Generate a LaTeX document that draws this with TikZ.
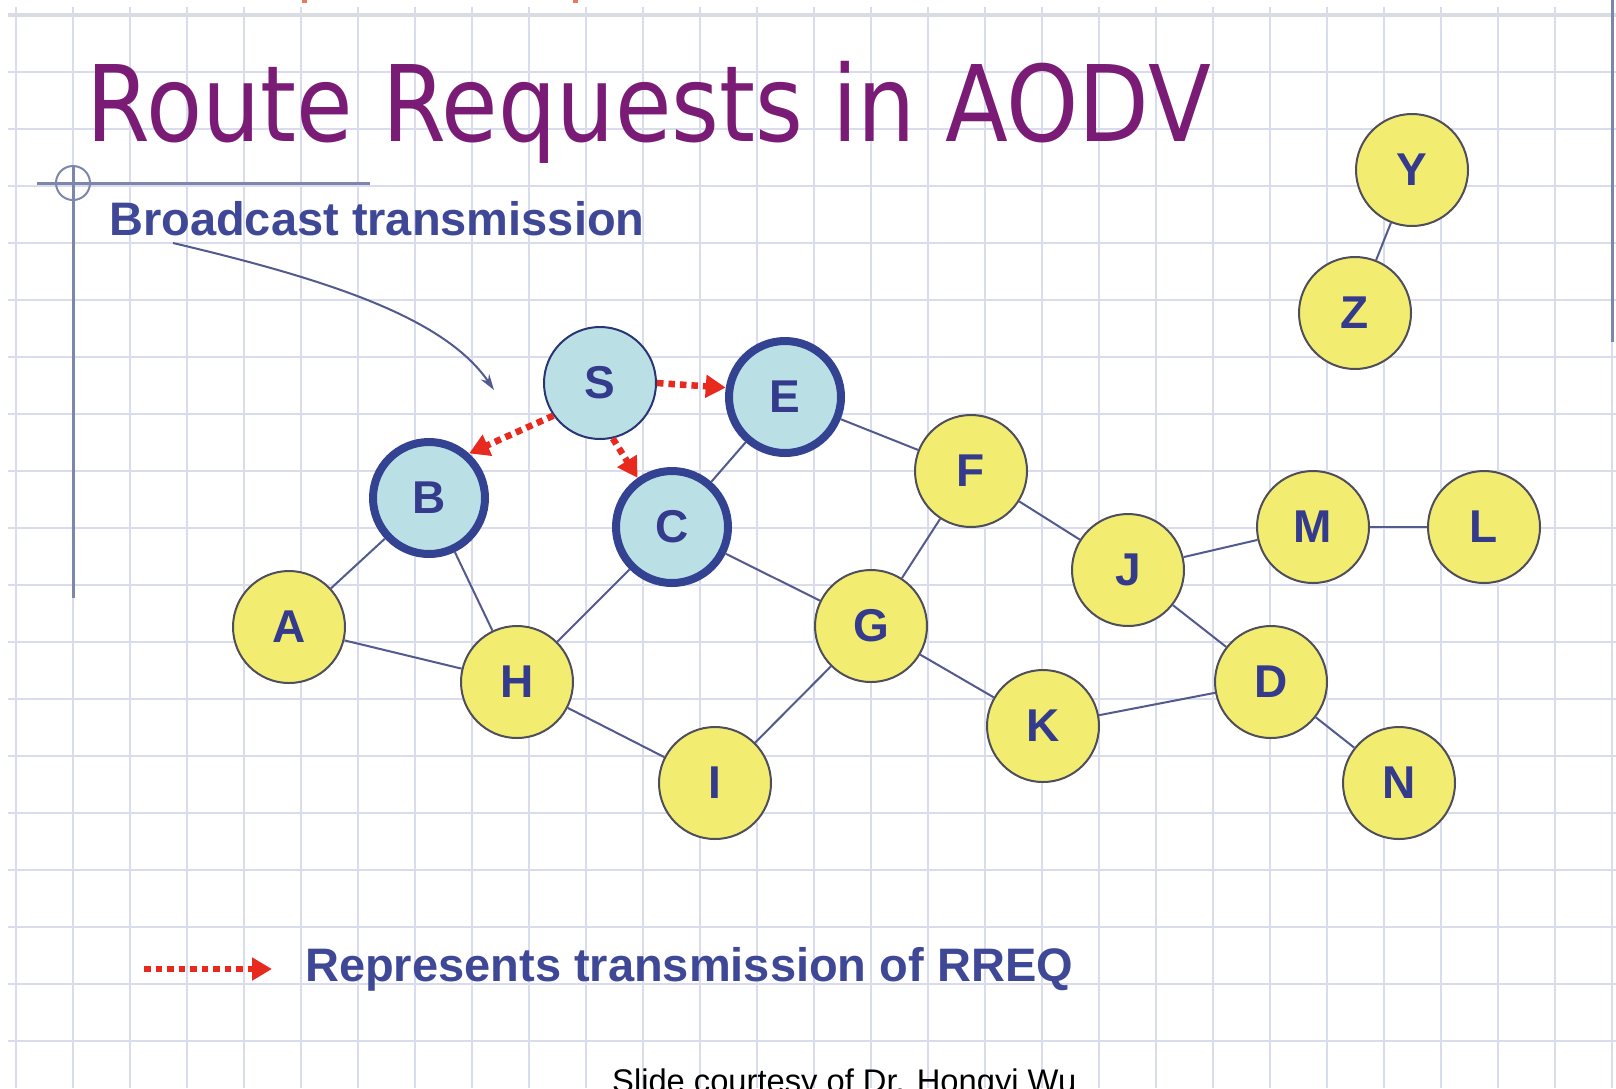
\documentclass[tikz,border=0pt]{standalone}
\usepackage{fontspec}
\setmainfont{Liberation Sans}
\newfontfamily\titlefont[FakeStretch=0.87]{DejaVu Sans}
\usetikzlibrary{arrows.meta}
\definecolor{gridc}{RGB}{216,220,236}
\definecolor{gridtop}{RGB}{218,220,228}
\definecolor{titlec}{RGB}{122,28,118}
\definecolor{txtc}{RGB}{62,72,150}
\definecolor{lblc}{RGB}{52,58,140}
\definecolor{yel}{RGB}{242,236,112}
\definecolor{cyanf}{RGB}{186,224,230}
\definecolor{bord}{RGB}{78,78,92}
\definecolor{bluebord}{RGB}{52,66,146}
\definecolor{edgec}{RGB}{82,90,142}
\definecolor{rreq}{RGB}{232,42,30}
\definecolor{decoc}{RGB}{125,135,172}
\definecolor{fragc}{RGB}{236,120,90}
\begin{document}
\begin{tikzpicture}[x=1pt,y=-1pt,
  ynode/.style={circle, draw=bord, line width=2pt, fill=yel, minimum size=112pt,
    inner sep=0pt, font=\fontsize{46}{46}\selectfont\bfseries, text=lblc},
  cnode/.style={ynode, fill=cyanf, draw=bluebord!80!black},
  heavy/.style={draw=bluebord, line width=8pt},
  link/.style={draw=edgec, line width=2pt},
  rreqarrow/.style={draw=rreq, line width=6.5pt, dash pattern=on 6.5pt off 5pt,
    -{Triangle[length=20pt,width=22pt]}},
  gridline/.style={draw=gridc, line width=2pt},
  deco/.style={draw=decoc, line width=3pt},
  bigtext/.style={font=\fontsize{47}{47}\selectfont\bfseries, text=txtc, inner sep=0pt, anchor=base west},
]
\useasboundingbox (0,0) rectangle (1616,1088);
\fill[white] (0,0) rectangle (1616,1088);

% grid
\foreach \k in {0,...,28} \draw[gridline] ({16+57*\k},7) -- ({16+57*\k},1088);
\foreach \k in {1,...,18} \draw[gridline] (8,{15+57*\k}) -- (1616,{15+57*\k});
\draw[draw=gridtop, line width=4pt] (8,15) -- (1616,15);

% decorations
\draw[deco] (1612,0) -- (1612,342);
\draw[deco] (37,183) -- (370,183);
\draw[deco] (73,165) -- (73,598);
\draw[draw=decoc, line width=2pt] (73,183) circle (17);
\fill[fragc] (302,0) rectangle (307,3);
\fill[fragc] (573,0) rectangle (578,3);

% title and texts
\node[font=\titlefont\fontsize{105.6}{106}\selectfont, text=titlec, inner sep=0pt, anchor=base west] (title) at (86,141) {Route Requests in AODV};
\node[bigtext] (bcast) at (109,235) {Broadcast transmission};
\node[bigtext] (legend) at (305,981) {Represents transmission of RREQ};
\node[font=\fontsize{32.7}{33}\selectfont, text=black, inner sep=0pt, anchor=base west] (credit) at (612,1092) {Slide courtesy of Dr. Hongyi Wu};

% nodes
\node[cnode, line width=2pt] (S) at (600,383) {S};
\node[cnode, heavy] (E) at (785,397) {E};
\node[cnode, heavy] (B) at (429,498) {B};
\node[cnode, heavy] (C) at (672,527) {C};
\node[ynode] (A) at (289,627) {A};
\node[ynode] (H) at (517,682) {H};
\node[ynode] (I) at (715,783) {I};
\node[ynode] (G) at (871,626) {G};
\node[ynode] (F) at (971,471) {F};
\node[ynode] (K) at (1043,726) {K};
\node[ynode] (J) at (1128,570) {J};
\node[ynode] (M) at (1313,527) {M};
\node[ynode] (L) at (1484,527) {L};
\node[ynode] (D) at (1271,682) {D};
\node[ynode] (N) at (1399,783) {N};
\node[ynode] (Y) at (1412,170) {Y};
\node[ynode] (Z) at (1355,313) {Z};

% links
\foreach \a/\b in {Y/Z, E/F, E/C, B/A, B/H, A/H, C/H, C/G, H/I, I/G, G/F, G/K, F/J, J/M, M/L, J/D, K/D, D/N}
  \draw[link] (\a) -- (\b);

% RREQ transmissions
\draw[rreqarrow] (S.east) -- (E.171);
\draw[rreqarrow] (S.215) -- (B.48);
\draw[rreqarrow] (S.283) -- (C.125);

% legend arrow
\coordinate (lgs) at (144,969);
\coordinate (lge) at (272,969);
\draw[rreqarrow] (lgs) -- (lge);

% broadcast pointer
\coordinate (bstart) at (173,243);
\coordinate (btip) at (494,390);
\draw[draw=edgec, line width=2pt, -{Stealth[length=16pt,width=10pt]}]
  (bstart) .. controls (330,280) and (445,318) .. (btip);
\end{tikzpicture}
\end{document}
